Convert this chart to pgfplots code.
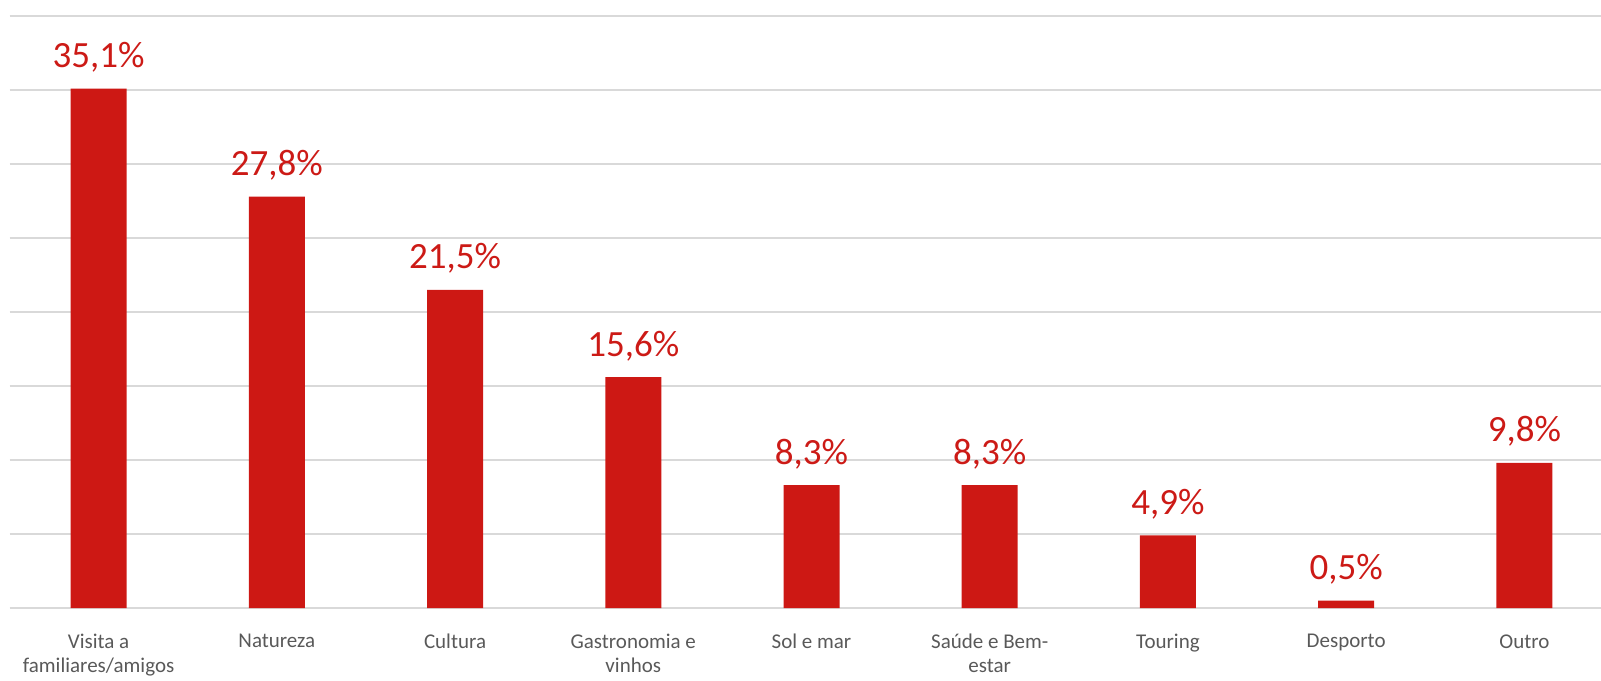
\documentclass[border=0pt]{standalone}
\usepackage{pgfplots}
\pgfplotsset{compat=1.18}
\usepackage{fontspec}
\setmainfont{Carlito}
\definecolor{barred}{HTML}{CD1814}
\definecolor{labred}{HTML}{CC1A16}
\definecolor{gridc}{HTML}{D9D9D9}
\definecolor{ticktxt}{HTML}{595959}
\begin{document}
\begin{tikzpicture}
\begin{axis}[
  scale only axis,
  width=802pt, height=296pt,
  xmin=-0.5, xmax=8.5, ymin=0, ymax=40,
  ytick={0,5,...,40}, yticklabels={},
  ymajorgrids, grid style={draw=gridc, line width=0.8pt},
  axis line style={draw=none},
  major tick length=0pt,
  xtick=data,
  xticklabels={{Visita a\\familiares/amigos},Natureza,Cultura,{Gastronomia e\\vinhos},Sol e mar,{Saúde e Bem-\\estar},Touring,Desporto,Outro},
  xticklabel style={align=center, text=ticktxt, font=\fontsize{10.5}{12}\selectfont, anchor=north, inner sep=0pt, yshift=-13pt},
  ybar, bar width=28pt,
  /pgf/number format/assume math mode=true,
  nodes near coords={\pgfmathprintnumber[fixed,zerofill,precision=1,use comma,assume math mode=true]{\pgfplotspointmeta}\%},
  every node near coord/.append style={font=\fontsize{18.5}{20}\selectfont, text=labred, anchor=base, inner sep=0pt, yshift=10.5pt},
  clip=false,
]
\addplot[fill=barred, draw=none] coordinates {(0,35.1) (1,27.8) (2,21.5) (3,15.6) (4,8.3) (5,8.3) (6,4.9) (7,0.5) (8,9.8)};
\end{axis}
\pgfresetboundingbox
\path[use as bounding box] ([xshift=-4.75pt,yshift=-36pt]current axis.south west) rectangle ([xshift=-6.25pt,yshift=8pt]current axis.north east);
\end{tikzpicture}
\end{document}
